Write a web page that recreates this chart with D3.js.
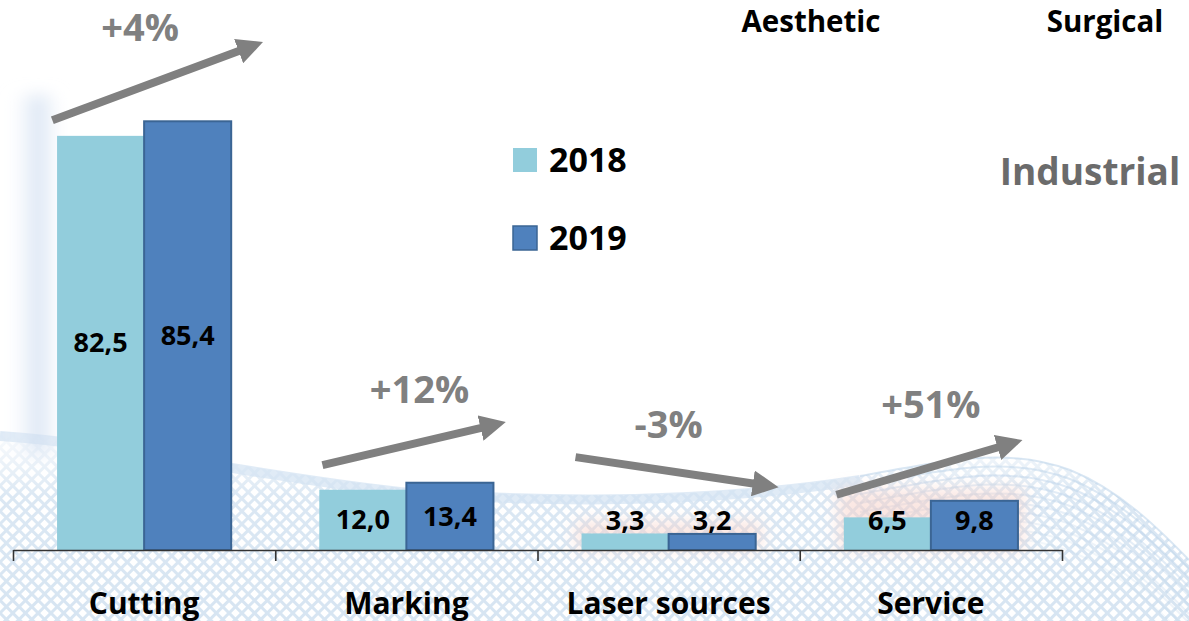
<!DOCTYPE html>
<html>
<head>
<meta charset="utf-8">
<script src="https://cdn.jsdelivr.net/npm/d3@7"></script>
<style>
  body { margin: 0; background: #fff; }
  svg { display: block; font-family: "Open Sans", "Noto Sans", sans-serif; }
</style>
</head>
<body>
<script>
// Data
var categories = ["Cutting", "Marking", "Laser sources", "Service"];
var years = ["2018", "2019"];
var values2018 = [82.5, 12.0, 3.3, 6.5];
var values2019 = [85.4, 13.4, 3.2, 9.8];
var growth = ["+4%", "+12%", "-3%", "+51%"];
// arrow annotation: start / tip heights in value units
var arrowFrom = [85.6, 16.9, 18.5, 11.0];
var arrowTo = [101.2, 25.5, 12.5, 21.9];
var growthAt = [104, 31.9, 24.9, 28.9];
var segments = ["Aesthetic", "Surgical", "Industrial"];

var width = 1189, height = 621;
var colors = {"2018": "#92cddc", "2019": "#4f81bd"};

var svg = d3.select("body").append("svg")
    .attr("width", width)
    .attr("height", height);

var defs = svg.append("defs");

// Scales
var x0 = d3.scaleBand().domain(categories).range([13, 1062])
    .paddingInner(0.336).paddingOuter(0.168);
var x1 = d3.scaleBand().domain(years).range([0, x0.bandwidth()]);
var y = d3.scaleLinear().domain([0, 100]).range([550, 48]);
var xb = d3.scaleLinear().domain([0, categories.length]).range([13, 1062]);

// Background decoration
var mesh = defs.append("pattern")
    .attr("id", "mesh")
    .attr("width", 9).attr("height", 9)
    .attr("patternUnits", "userSpaceOnUse")
    .attr("patternTransform", "rotate(45)");
mesh.append("rect").attr("width", 9).attr("height", 3).attr("fill", "#c9dcee");
mesh.append("rect").attr("width", 3).attr("height", 9).attr("fill", "#c9dcee");

var fade = defs.append("linearGradient").attr("id", "fade")
    .attr("x1", 0).attr("y1", 0).attr("x2", 0).attr("y2", 1);
fade.append("stop").attr("offset", "0%").attr("stop-color", "#fff").attr("stop-opacity", 0.9);
fade.append("stop").attr("offset", "35%").attr("stop-color", "#fff").attr("stop-opacity", 0.1);
fade.append("stop").attr("offset", "100%").attr("stop-color", "#fff").attr("stop-opacity", 0);

var glow = defs.append("linearGradient").attr("id", "glow")
    .attr("x1", 0).attr("y1", 0).attr("x2", 1).attr("y2", 0);
glow.append("stop").attr("offset", "0%").attr("stop-color", "#fff").attr("stop-opacity", 0);
glow.append("stop").attr("offset", "60%").attr("stop-color", "#c7d8ee").attr("stop-opacity", 0.7);
glow.append("stop").attr("offset", "100%").attr("stop-color", "#f2f6fb").attr("stop-opacity", 0.3);

defs.append("filter").attr("id", "blur")
    .attr("x", "-50%").attr("y", "-50%").attr("width", "200%").attr("height", "200%")
  .append("feGaussianBlur").attr("stdDeviation", 8);

var wave = "M0,432 C120,440 240,470 400,488 C560,500 720,498 860,476 C960,458 1010,448 1070,470 C1120,490 1160,530 1189,560 L1189,621 L0,621 Z";
svg.append("path").attr("d", wave).attr("fill", "url(#mesh)").attr("opacity", 0.75);
svg.append("path").attr("d", wave).attr("fill", "url(#fade)");

// soft swoosh lines along the wave
var bg = svg.append("g").attr("fill", "none").attr("stroke", "#bcd3ea").attr("stroke-width", 2);
d3.range(0, 10).forEach(function(i) {
  var o = i * 9;
  bg.append("path")
      .attr("opacity", 0.55 - i * 0.04)
      .attr("d", "M860," + (476 + o) + " C960," + (458 + o) + " 1010," + (448 + o) + " 1070," + (470 + o) +
                 " C1120," + (490 + o) + " 1160," + (530 + o) + " 1189," + (560 + o));
});
svg.append("path")
    .attr("d", "M0,436 C120,444 240,474 400,492 C560,504 720,502 860,480")
    .attr("fill", "none").attr("stroke", "#d3e2f2").attr("stroke-width", 10).attr("opacity", 0.7);

// blue glow left of the tallest group
svg.append("rect")
    .attr("x", 8).attr("y", 95).attr("width", 50).attr("height", 360)
    .attr("fill", "url(#glow)").attr("filter", "url(#blur)");

// faint pink halos behind small bars
[2, 3].forEach(function(i) {
  var top = Math.max(values2018[i], values2019[i]);
  svg.append("rect")
      .attr("x", x0(categories[i]) - 6).attr("y", y(top) - 12)
      .attr("width", x0.bandwidth() + 12).attr("height", y(0) - y(top) + 12)
      .attr("fill", "#f6cfc6").attr("opacity", 0.5).attr("filter", "url(#blur)");
});

// Bars
var groups = svg.selectAll(".group")
    .data(categories)
  .enter().append("g")
    .attr("class", "group")
    .attr("transform", function(d) { return "translate(" + x0(d) + ",0)"; });

var barData = function(d, i) {
  return [{year: "2018", v: values2018[i]}, {year: "2019", v: values2019[i]}];
};

groups.selectAll("rect")
    .data(barData)
  .enter().append("rect")
    .attr("x", function(d) { return x1(d.year); })
    .attr("y", function(d) { return y(d.v); })
    .attr("width", x1.bandwidth())
    .attr("height", function(d) { return y(0) - y(d.v); })
    .attr("fill", function(d) { return colors[d.year]; })
    .attr("stroke", function(d) { return d.year === "2019" ? "#3b6594" : "none"; })
    .attr("stroke-width", 2);

var fmt = function(v) { return d3.format(".1f")(v).replace(".", ","); };

groups.selectAll("text.val")
    .data(barData)
  .enter().append("text")
    .attr("class", "val")
    .attr("x", function(d) { return x1(d.year) + x1.bandwidth() / 2; })
    .attr("y", function(d) { return Math.min((y(d.v) + y(0)) / 2, y(0) - 29); })
    .attr("dy", "0.35em")
    .attr("text-anchor", "middle")
    .style("font-size", "27px")
    .style("font-weight", "bold")
    .style("fill", "#000")
    .text(function(d) { return fmt(d.v); });

// Axis with boundary ticks
svg.append("g")
    .attr("transform", "translate(0," + y(0) + ")")
    .call(d3.axisBottom(xb).tickValues(d3.range(0, categories.length + 1))
      .tickSize(11).tickSizeOuter(0).tickFormat(""))
    .call(function(g) {
      g.selectAll("path, line").attr("stroke", "#333").attr("stroke-width", 1.6);
    });

svg.append("g").selectAll("text")
    .data(categories)
  .enter().append("text")
    .attr("x", function(d) { return x0(d) + x0.bandwidth() / 2; })
    .attr("y", 603)
    .attr("dy", "0.35em")
    .attr("text-anchor", "middle")
    .style("font-size", "30px")
    .style("font-weight", "bold")
    .style("fill", "#000")
    .text(function(d) { return d; });

// Growth arrows
defs.append("marker")
    .attr("id", "head")
    .attr("viewBox", "0 0 10 10")
    .attr("refX", 2).attr("refY", 5)
    .attr("markerWidth", 26).attr("markerHeight", 26)
    .attr("markerUnits", "userSpaceOnUse")
    .attr("orient", "auto")
  .append("path")
    .attr("d", "M0,0 L10,5 L0,10 Z")
    .attr("fill", "#808080");

var bandStart = function(i) { return x0(categories[i]) - x0.step() * 0.168; };
var ax = function(i, f) { return bandStart(i) + x0.step() * f; };
var arrowX0 = [0.15, 0.18, 0.145, 0.14];
var arrowTip = [0.954, 0.88, 0.92, 0.85];
var growthX = [0.485, 0.55, 0.5, 0.5];

categories.forEach(function(c, i) {
  var sx = ax(i, arrowX0[i]), sy = y(arrowFrom[i]);
  var tx = ax(i, arrowTip[i]), ty = y(arrowTo[i]);
  var len = Math.hypot(tx - sx, ty - sy);
  var ux = (tx - sx) / len, uy = (ty - sy) / len;
  svg.append("line")
      .attr("x1", sx).attr("y1", sy)
      .attr("x2", tx - ux * 21).attr("y2", ty - uy * 21)
      .attr("stroke", "#808080")
      .attr("stroke-width", 8)
      .attr("marker-end", "url(#head)");
  svg.append("text")
      .attr("x", ax(i, growthX[i]))
      .attr("y", y(growthAt[i]))
      .attr("dy", "0.35em")
      .attr("text-anchor", "middle")
      .style("font-size", "38px")
      .style("font-weight", "bold")
      .style("fill", "#808080")
      .text(growth[i]);
});

// Legend
var legend = svg.append("g").selectAll("g")
    .data(years)
  .enter().append("g")
    .attr("transform", function(d, i) { return "translate(513," + (160 + i * 78) + ")"; });

legend.append("rect")
    .attr("y", -12).attr("width", 24).attr("height", 24)
    .attr("fill", function(d) { return colors[d]; })
    .attr("stroke", function(d) { return d === "2019" ? "#3b6594" : "none"; })
    .attr("stroke-width", 1.5);

legend.append("text")
    .attr("x", 36).attr("dy", "0.35em")
    .style("font-size", "34px")
    .style("font-weight", "bold")
    .style("fill", "#000")
    .text(function(d) { return d; });

// Segment labels
svg.append("text").attr("x", 811).attr("y", 32)
    .attr("text-anchor", "middle")
    .style("font-size", "29.5px").style("font-weight", "bold").style("fill", "#000")
    .text(segments[0]);
svg.append("text").attr("x", 1105).attr("y", 32)
    .attr("text-anchor", "middle")
    .style("font-size", "29.5px").style("font-weight", "bold").style("fill", "#000")
    .text(segments[1]);
svg.append("text").attr("x", 1090).attr("y", 172).attr("dy", "0.35em")
    .attr("text-anchor", "middle")
    .style("font-size", "37px").style("font-weight", "bold").style("fill", "#6b6b6b")
    .text(segments[2]);
</script>
</body>
</html>
